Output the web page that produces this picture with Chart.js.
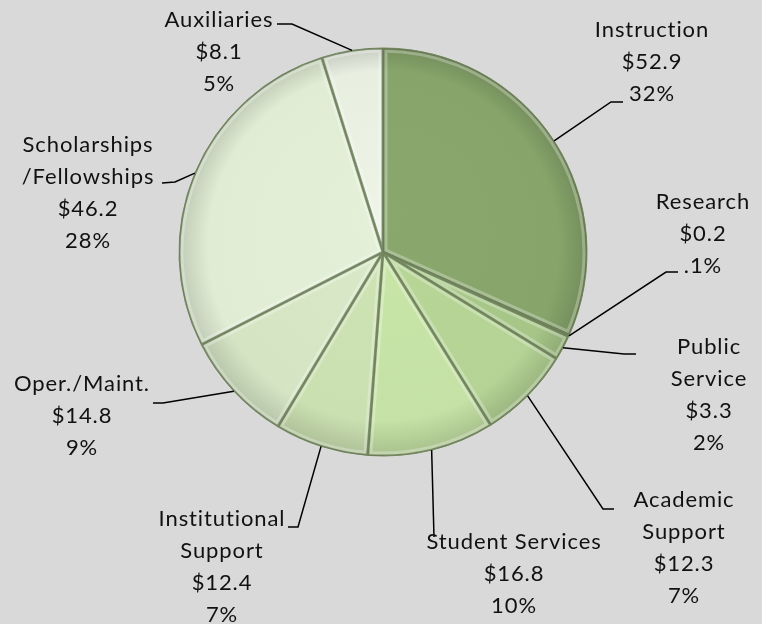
<!DOCTYPE html>
<html>
<head>
<meta charset="utf-8">
<script src="https://cdn.jsdelivr.net/npm/chart.js@4/dist/chart.umd.min.js"></script>
<style>
  html, body { margin: 0; padding: 0; background: #d9d9d9; }
  canvas { display: block; }
</style>
</head>
<body>
<canvas id="budget" width="762" height="624"></canvas>
<script>
// spending by function, $ millions
const categories = ['Instruction', 'Research', 'Public Service', 'Academic Support', 'Student Services',
  'Institutional Support', 'Oper./Maint.', 'Scholarships /Fellowships', 'Auxiliaries'];
const amounts = [52.9, 0.2, 3.3, 12.3, 16.8, 12.4, 14.8, 46.2, 8.1];
const percentLabels = ['32%', '.1%', '2%', '7%', '10%', '7%', '9%', '28%', '5%'];
const nameLines = [['Instruction'], ['Research'], ['Public', 'Service'], ['Academic', 'Support'],
  ['Student Services'], ['Institutional', 'Support'], ['Oper./Maint.'], ['Scholarships', '/Fellowships'], ['Auxiliaries']];
const sliceColors = ['#87a56b', '#92b274', '#a6c687', '#b4d394', '#c5e1a5', '#cae0b1', '#d5e5c4', '#e0ecd4', '#e8efe1'];

// where each label block sits and how its leader line bends
const labelLayout = [
  { x: 652, y: 30, elbow: [611, 102], end: [623, 102] },
  { x: 703, y: 202, elbow: [666, 272], end: [678, 272] },
  { x: 709, y: 347, elbow: [624, 354], end: [636, 354] },
  { x: 684, y: 500, elbow: [603, 509], end: [614, 509] },
  { x: 514, y: 542, elbow: [434, 537], end: [434, 537] },
  { x: 222, y: 519, elbow: [298, 527], end: [288, 527] },
  { x: 82, y: 384, elbow: [163, 403], end: [153, 403] },
  { x: 88, y: 145, elbow: [175, 182], end: [162, 183] },
  { x: 219, y: 20, elbow: [292, 24], end: [277, 24] }
];

function shade(hex, f) {
  const n = parseInt(hex.slice(1), 16);
  const r = Math.round(((n >> 16) & 255) * f);
  const g = Math.round(((n >> 8) & 255) * f);
  const b = Math.round((n & 255) * f);
  return `rgb(${Math.min(r, 255)},${Math.min(g, 255)},${Math.min(b, 255)})`;
}

function sliceFill(context) {
  const chart = context.chart;
  const area = chart.chartArea;
  if (!area) return sliceColors[context.dataIndex];
  const cx = (area.left + area.right) / 2;
  const cy = (area.top + area.bottom) / 2;
  const base = sliceColors[context.dataIndex];
  const g = chart.ctx.createRadialGradient(cx, cy - 40, 0, cx, cy, 206);
  g.addColorStop(0, shade(base, 1.02));
  g.addColorStop(0.85, base);
  g.addColorStop(1, shade(base, 0.85));
  return g;
}

function arcPath(ctx, a) {
  ctx.beginPath();
  ctx.moveTo(a.x, a.y);
  ctx.arc(a.x, a.y, a.outerRadius, a.startAngle, a.endAngle);
  ctx.closePath();
}

// soft bevel along every slice edge
const bevelPlugin = {
  id: 'bevel',
  afterDatasetsDraw(chart) {
    const ctx = chart.ctx;
    chart.getDatasetMeta(0).data.forEach(a => {
      ctx.save();
      arcPath(ctx, a);
      ctx.clip();
      ctx.lineJoin = 'round';
      ctx.lineWidth = 9;
      ctx.strokeStyle = 'rgba(255,255,255,0.28)';
      arcPath(ctx, a);
      ctx.stroke();
      ctx.lineWidth = 3;
      ctx.strokeStyle = 'rgba(70,90,50,0.6)';
      arcPath(ctx, a);
      ctx.stroke();
      ctx.restore();
    });
  }
};

// text blocks and leader lines
const calloutPlugin = {
  id: 'callouts',
  afterDraw(chart) {
    const ctx = chart.ctx;
    const arcs = chart.getDatasetMeta(0).data;
    ctx.save();
    ctx.strokeStyle = '#000';
    ctx.lineWidth = 1.5;
    arcs.forEach((a, i) => {
      const lay = labelLayout[i];
      const mid = (a.startAngle + a.endAngle) / 2;
      const px = a.x + Math.cos(mid) * a.outerRadius;
      const py = a.y + Math.sin(mid) * a.outerRadius;
      ctx.beginPath();
      ctx.moveTo(px, py);
      ctx.lineTo(lay.elbow[0], lay.elbow[1]);
      ctx.lineTo(lay.end[0], lay.end[1]);
      ctx.stroke();
    });
    ctx.fillStyle = '#111';
    ctx.font = '22px Lato';
    ctx.letterSpacing = '0.9px';
    ctx.textAlign = 'center';
    ctx.textBaseline = 'middle';
    arcs.forEach((a, i) => {
      const lay = labelLayout[i];
      const lines = [...nameLines[i], '$' + amounts[i].toFixed(1), percentLabels[i]];
      lines.forEach((t, k) => ctx.fillText(t, lay.x, lay.y + k * 32));
    });
    ctx.restore();
  }
};

new Chart(document.getElementById('budget'), {
  type: 'pie',
  data: {
    labels: categories,
    datasets: [{
      data: amounts,
      backgroundColor: sliceFill,
      borderColor: '#6f8757',
      borderWidth: 1,
      hoverOffset: 0,
      offset: 0
    }]
  },
  options: {
    responsive: false,
    animation: false,
    radius: 204,
    layout: { padding: { left: 179, right: 175, top: 48, bottom: 168 } },
    plugins: { legend: { display: false }, tooltip: { enabled: false } },
    events: []
  },
  plugins: [bevelPlugin, calloutPlugin]
});
</script>
</body>
</html>
